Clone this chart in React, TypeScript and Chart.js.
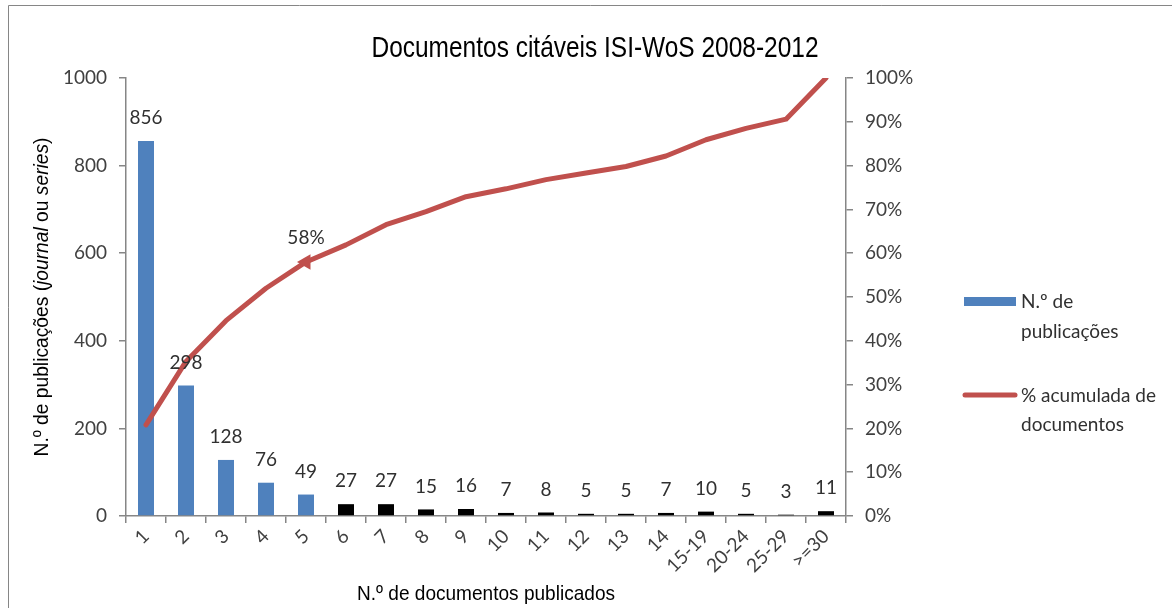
import React, { useEffect, useRef } from "react";
import { Chart, registerables } from "chart.js";

Chart.register(...registerables);

const categories = ["1", "2", "3", "4", "5", "6", "7", "8", "9", "10", "11", "12", "13", "14", "15-19", "20-24", "25-29", ">=30"];
const publicacoes = [856, 298, 128, 76, 49, 27, 27, 15, 16, 7, 8, 5, 5, 7, 10, 5, 3, 11];
const acumulada = [20.8, 35.3, 44.6, 52.0, 58.0, 61.9, 66.5, 69.5, 72.9, 74.7, 76.8, 78.3, 79.8, 82.2, 85.9, 88.5, 90.6, 100];
const highlightIndex = 4;
const blueCount = 5;

const TITLE = "Documentos citáveis ISI-WoS 2008-2012";
const X_TITLE = "N.º de documentos publicados";
const Y_TITLE_PARTS: [string, boolean][] = [
  ["N.º de publicações (", false],
  ["journal", true],
  [" ou ", false],
  ["series", true],
  [")", false],
];
const LEGEND_BAR = ["N.º de", "publicações"];
const LEGEND_LINE = ["% acumulada de", "documentos"];

const BLUE = "#4F81BD";
const RED = "#C0504D";
const AXIS = "#868686";
const TEXT = "#404040";
const NARROW = '"Liberation Sans Narrow", "Liberation Sans", Arial, sans-serif';
const LIGHT = 'Lato, "Open Sans", sans-serif';

function fillCondensed(ctx: CanvasRenderingContext2D, text: string, cx: number, cy: number, width: number) {
  const w = ctx.measureText(text).width;
  const s = width / w;
  ctx.save();
  ctx.translate(cx, cy);
  ctx.scale(s, 1);
  ctx.textAlign = "center";
  ctx.fillText(text, 0, 0);
  ctx.restore();
}

const decorPlugin = {
  id: "decor",
  afterDatasetsDraw(chart: any) {
    const ctx = chart.ctx;
    const meta = chart.getDatasetMeta(0);
    ctx.save();
    ctx.font = `19px ${LIGHT}`;
    ctx.fillStyle = "#303030";
    ctx.textAlign = "center";
    ctx.textBaseline = "middle";
    meta.data.forEach((el: any, i: number) => {
      ctx.fillText(String(publicacoes[i]), el.x, el.y - 23);
    });
    const lmeta = chart.getDatasetMeta(1);
    const p = lmeta.data[highlightIndex];
    ctx.fillText(Math.round(acumulada[highlightIndex]) + "%", p.x, p.y - 24);
    ctx.restore();
  },
  afterDraw(chart: any) {
    const ctx = chart.ctx;
    const area = chart.chartArea;
    ctx.save();
    // frame
    ctx.strokeStyle = AXIS;
    ctx.lineWidth = 1;
    ctx.beginPath();
    ctx.moveTo(8.5, 700);
    ctx.lineTo(8.5, 5.5);
    ctx.lineTo(1300, 5.5);
    ctx.stroke();
    // title
    ctx.fillStyle = "#000";
    ctx.textBaseline = "middle";
    ctx.font = `29px ${NARROW}`;
    fillCondensed(ctx, TITLE, 595, 49, 447);
    // x title
    ctx.font = `21px ${NARROW}`;
    fillCondensed(ctx, X_TITLE, (area.left + area.right) / 2, 594, 258);
    // y title
    ctx.translate(42, (area.top + area.bottom) / 2);
    ctx.rotate(-Math.PI / 2);
    ctx.textAlign = "left";
    let total = 0;
    Y_TITLE_PARTS.forEach(([t, it]) => {
      ctx.font = `${it ? "italic " : ""}21px ${NARROW}`;
      total += ctx.measureText(t).width;
    });
    const s = 319 / total;
    ctx.scale(s, 1);
    let x = -total / 2;
    Y_TITLE_PARTS.forEach(([t, it]) => {
      ctx.font = `${it ? "italic " : ""}21px ${NARROW}`;
      ctx.fillText(t, x, 0);
      x += ctx.measureText(t).width;
    });
    ctx.restore();
    // legend
    ctx.save();
    ctx.fillStyle = BLUE;
    ctx.fillRect(964, 297, 52, 9);
    ctx.strokeStyle = RED;
    ctx.lineWidth = 5;
    ctx.lineCap = "round";
    ctx.beginPath();
    ctx.moveTo(965, 395);
    ctx.lineTo(1015, 395);
    ctx.stroke();
    ctx.fillStyle = "#303030";
    ctx.font = `19px ${LIGHT}`;
    ctx.textAlign = "left";
    ctx.textBaseline = "middle";
    ctx.fillText(LEGEND_BAR[0], 1021, 302);
    ctx.fillText(LEGEND_BAR[1], 1021, 332);
    ctx.fillText(LEGEND_LINE[0], 1021, 396);
    ctx.fillText(LEGEND_LINE[1], 1021, 425);
    ctx.restore();
  },
};

export default function App() {
  const ref = useRef<HTMLCanvasElement | null>(null);
  useEffect(() => {
    if (!ref.current) return;
    const tickFont = { family: LIGHT, size: 19 };
    const chart = new Chart(ref.current, {
      type: "bar",
      data: {
        labels: categories,
        datasets: [
          {
            type: "bar",
            label: "N.º de publicações",
            data: publicacoes,
            backgroundColor: publicacoes.map((_, i) => (i < blueCount ? BLUE : "#000000")),
            barPercentage: 0.4,
            categoryPercentage: 1,
            yAxisID: "y",
            order: 2,
          },
          {
            type: "line",
            label: "% acumulada de documentos",
            data: acumulada,
            borderColor: RED,
            backgroundColor: RED,
            borderWidth: 5,
            borderCapStyle: "round",
            borderJoinStyle: "round",
            tension: 0,
            pointStyle: "triangle",
            rotation: -90,
            pointRadius: acumulada.map((_, i) => (i === highlightIndex ? 9 : 0)),
            pointBorderWidth: 0,
            yAxisID: "y1",
            order: 1,
          } as any,
        ],
      },
      options: {
        animation: false,
        responsive: true,
        maintainAspectRatio: false,
        layout: { padding: { left: 0, right: 256, top: 78, bottom: 0 } },
        plugins: { legend: { display: false }, tooltip: { enabled: false }, title: { display: false } },
        scales: {
          x: {
            grid: { display: true, drawOnChartArea: false, drawTicks: true, tickLength: 7, color: AXIS, lineWidth: 1.5 },
            border: { display: true, color: AXIS, width: 1.5 },
            ticks: { minRotation: 45, maxRotation: 45, font: tickFont, color: TEXT, padding: 2, autoSkip: false },
            afterFit: (s: any) => { s.height = 92; },
          },
          y: {
            position: "left",
            min: 0,
            max: 1000,
            grid: { display: true, drawOnChartArea: false, drawTicks: true, tickLength: 7, color: AXIS, lineWidth: 1.5 },
            border: { display: true, color: AXIS, width: 1.5 },
            ticks: { stepSize: 200, font: tickFont, color: TEXT, padding: 12, callback: (v: any) => String(v) },
            afterFit: (s: any) => { s.width = 126; },
          },
          y1: {
            position: "right",
            min: 0,
            max: 100,
            grid: { display: true, drawOnChartArea: false, drawTicks: true, tickLength: 7, color: AXIS, lineWidth: 1.5 },
            border: { display: true, color: AXIS, width: 1.5 },
            ticks: { stepSize: 10, font: tickFont, color: TEXT, padding: 12, callback: (v: any) => v + "%" },
            afterFit: (s: any) => { s.width = 70; },
          },
        },
      },
      plugins: [decorPlugin],
    } as any);
    return () => chart.destroy();
  }, []);
  return (
    <div style={{ position: "absolute", left: 0, top: 0, width: 1172, height: 608, background: "#fff" }}>
      <canvas ref={ref} />
    </div>
  );
}
